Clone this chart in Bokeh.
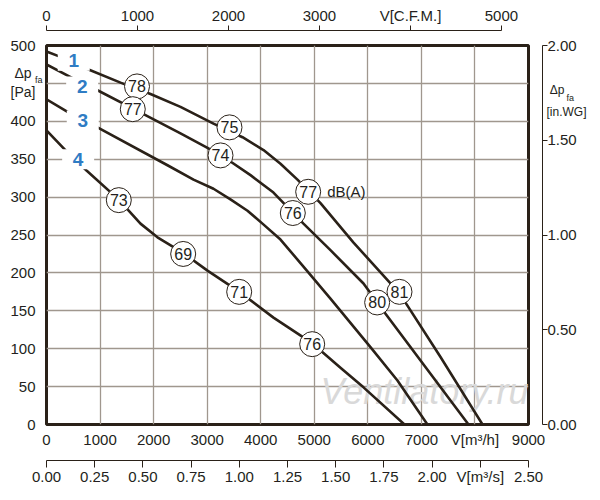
from bokeh.plotting import figure
from bokeh.models import LinearAxis, Range1d, FixedTicker
from bokeh.core.properties import value
from bokeh.embed import file_html
from bokeh.resources import INLINE

FONT = "Liberation Sans"
INK = "#2a2118"
TEXT = "#231f20"
GRID = "#a0978e"
BLUE = "#2f7cc4"

# fan curves: flow V [m3/h] against pressure dp_fa [Pa]
curve1_flow = [0, 261, 728, 1382, 1942, 2502, 3118, 3660, 4052, 4369, 4686, 5116, 5733, 6592, 7357, 8141]
curve1_pa = [492, 485, 470, 451, 436, 419, 397, 379, 362, 344, 323, 292, 240, 173, 89, 0]

curve2_flow = [0, 485, 952, 1606, 2502, 3006, 3435, 3809, 4238, 4798, 5302, 5919, 6330, 7880]
curve2_pa = [475, 457, 441, 417, 384, 365, 347, 329, 306, 265, 230, 186, 146, 0]

curve3_flow = [0, 448, 952, 2259, 2745, 3118, 3435, 3753, 4033, 4369, 4873, 5302, 6049, 6553, 7113]
curve3_pa = [429, 410, 392, 342, 323, 311, 297, 282, 265, 244, 202, 166, 102, 58, 0]

curve4_flow = [0, 392, 747, 1344, 1755, 2072, 2558, 3006, 3603, 4238, 4966, 5489, 5919, 6684]
curve4_pa = [388, 359, 335, 297, 265, 247, 226, 203, 175, 141, 107, 75, 49, 0]

# noise level bubbles dB(A)
db_flow = [1690, 3417, 4886, 6591, 1611, 3249, 4599, 6174, 1350, 2552, 3598, 4961]
db_pa = [446, 392, 307, 175, 416, 355, 279, 161, 296, 225, 175, 106]
db_text = ["78", "75", "77", "81", "77", "74", "76", "80", "73", "69", "71", "76"]

# curve numbers
num_flow = [509, 666, 677, 591]
num_pa = [480, 446, 401, 350]
num_text = ["1", "2", "3", "4"]

flow_ticks = [0, 1000, 2000, 3000, 4000, 5000, 6000, 7000, 8000, 9000]
flow_labels = ["0", "1000", "2000", "3000", "4000", "5000", "6000", "7000", "V[m³/h]", "9000"]
pa_ticks = [0, 50, 100, 150, 200, 250, 300, 350, 400, 450, 500]
pa_labels = ["0", "50", "100", "150", "200", "250", "300", "350", "400", "", "500"]
cfm_ticks = [0, 1000, 2000, 3000, 4000, 5000]
cfm_labels = ["0", "1000", "2000", "3000", "V[C.F.M.]", "5000"]
m3s_ticks = [0, 0.25, 0.5, 0.75, 1.0, 1.25, 1.5, 1.75, 2.0, 2.25, 2.5]
m3s_labels = ["0.00", "0.25", "0.50", "0.75", "1.00", "1.25", "1.50", "1.75", "2.00", "V[m³/s]", "2.50"]
inwg_ticks = [0, 0.5, 1.0, 1.5, 2.0]
inwg_labels = ["0.00", "0.50", "1.00", "1.50", "2.00"]

# axis titles: pressure level [Pa] where each piece sits
left_title_pa = [464, 438]
left_title = ["Δp\u00a0", "[Pa]"]
left_sub_pa = [455]
right_title_pa = [441, 412]
right_title = ["\u00a0Δp", "[in.WG]"]
right_sub_pa = [431]

FLOW_MAX = 9000
PA_MAX = 500
CFM_PER_M3H = 1 / 1.699

p = figure(width=600, height=500, x_range=(0, FLOW_MAX), y_range=(0, PA_MAX),
           output_backend="svg", toolbar_location=None,
           min_border_left=46, min_border_right=72, min_border_top=45, min_border_bottom=76)
p.background_fill_color = "white"
p.border_fill_color = "white"
p.outline_line_color = INK
p.outline_line_width = 3

p.extra_x_ranges = {"cfm": Range1d(0, FLOW_MAX * CFM_PER_M3H), "m3s": Range1d(0, FLOW_MAX / 3600)}
p.extra_y_ranges = {"inwg": Range1d(0, 2.0)}

p.xgrid.grid_line_color = GRID
p.ygrid.grid_line_color = GRID
p.xgrid.grid_line_width = 1.3
p.ygrid.grid_line_width = 1.3


def style(ax, ticks, labels, size="15px"):
    ax.ticker = FixedTicker(ticks=ticks)
    ax.major_label_overrides = dict(zip(ticks, labels))
    ax.major_label_text_font = FONT
    ax.major_label_text_font_size = size
    ax.major_label_text_color = TEXT
    ax.minor_tick_line_color = None
    ax.minor_tick_out = 0
    ax.major_tick_line_color = INK
    ax.axis_line_color = INK


def spacer(px):
    # empty axis that only takes up room between the frame and an outer axis
    ax = LinearAxis(ticker=FixedTicker(ticks=[0]), major_label_overrides={0: " "},
                    axis_line_color=None, major_tick_line_color=None,
                    major_tick_out=px, major_tick_in=0, minor_tick_out=0,
                    major_label_standoff=0, major_label_text_font_size="1px")
    return ax


def text_axis(ticks, labels, size, standoff, **kw):
    # axis without line or ticks, used only for its labels
    ax = LinearAxis(**kw)
    style(ax, ticks, labels, size)
    ax.axis_line_color = None
    ax.major_tick_line_color = None
    ax.major_tick_out = 0
    ax.major_tick_in = 0
    ax.major_label_standoff = standoff
    return ax


bottom = p.xaxis[0]
style(bottom, flow_ticks, flow_labels)
bottom.axis_line_color = None
bottom.major_tick_out = 0
bottom.major_tick_in = 0
bottom.major_label_standoff = 6

p.add_layout(spacer(6), "below")
m3s = LinearAxis(x_range_name="m3s")
style(m3s, m3s_ticks, m3s_labels)
m3s.major_tick_out = 7
m3s.major_tick_in = 0
m3s.major_label_standoff = 0
p.add_layout(m3s, "below")

p.add_layout(spacer(11), "above")
cfm = LinearAxis(x_range_name="cfm", bounds=(0, 5000))
style(cfm, cfm_ticks, cfm_labels)
cfm.major_tick_out = 5
cfm.major_tick_in = 0
cfm.major_label_standoff = 2
p.add_layout(cfm, "above")

# left side, from the frame outwards: subscript, numbers, title
left = p.left[0]
style(left, pa_ticks, pa_labels)
left.axis_line_color = None
left.major_tick_out = 0
left.major_tick_in = 0
left.major_label_standoff = -4
left_sub = text_axis(left_sub_pa, ["fa"], "9px", 4)
left_ttl = text_axis(left_title_pa, left_title, "14px", -28)
p.left = [left_sub, left, left_ttl]

# right side, from the frame outwards: gap, ticks, subscript, numbers, title
inwg_ticks_ax = LinearAxis(y_range_name="inwg")
style(inwg_ticks_ax, inwg_ticks, [" "] * len(inwg_ticks), "1px")
inwg_ticks_ax.major_tick_out = 5
inwg_ticks_ax.major_tick_in = 0
inwg_ticks_ax.major_label_standoff = 0
right_sub = text_axis(right_sub_pa, ["fa"], "9px", 16)
inwg = text_axis(inwg_ticks, inwg_labels, "15px", -30, y_range_name="inwg")
right_ttl = text_axis(right_title_pa, right_title, "12px", -33)
p.right = [spacer(11), inwg_ticks_ax, right_sub, inwg, right_ttl]

# watermark under the curves
p.text(x=[7058], y=[44], text=["Ventilatory.ru"], text_font=value(FONT),
       text_font_style="italic", text_font_size="36px", text_color="#d9d9d9",
       text_align="center", text_baseline="middle")

for fx, fy in [(curve1_flow, curve1_pa), (curve2_flow, curve2_pa),
               (curve3_flow, curve3_pa), (curve4_flow, curve4_pa)]:
    p.line(fx, fy, line_color=INK, line_width=2.6, line_join="round")

p.scatter(db_flow, db_pa, marker="circle", size=25, fill_color="white",
          line_color=INK, line_width=1)
p.text(x=db_flow, y=db_pa, text=db_text, text_font=value(FONT), text_font_size="16px",
       text_color=TEXT, text_align="center", text_baseline="middle")
p.text(x=[5241], y=[307], text=["dB(A)"], text_font=value(FONT), text_font_size="15px",
       text_color=TEXT, text_align="left", text_baseline="middle")

p.rect(x=num_flow, y=num_pa, width=32, height=20, width_units="screen",
       height_units="screen", fill_color="white", line_color=None)
p.text(x=num_flow, y=num_pa, text=num_text, text_font=value(FONT), text_font_style="bold",
       text_font_size="19px", text_color=BLUE, text_align="center", text_baseline="middle")

open("out.html", "w").write(file_html(p, INLINE))
